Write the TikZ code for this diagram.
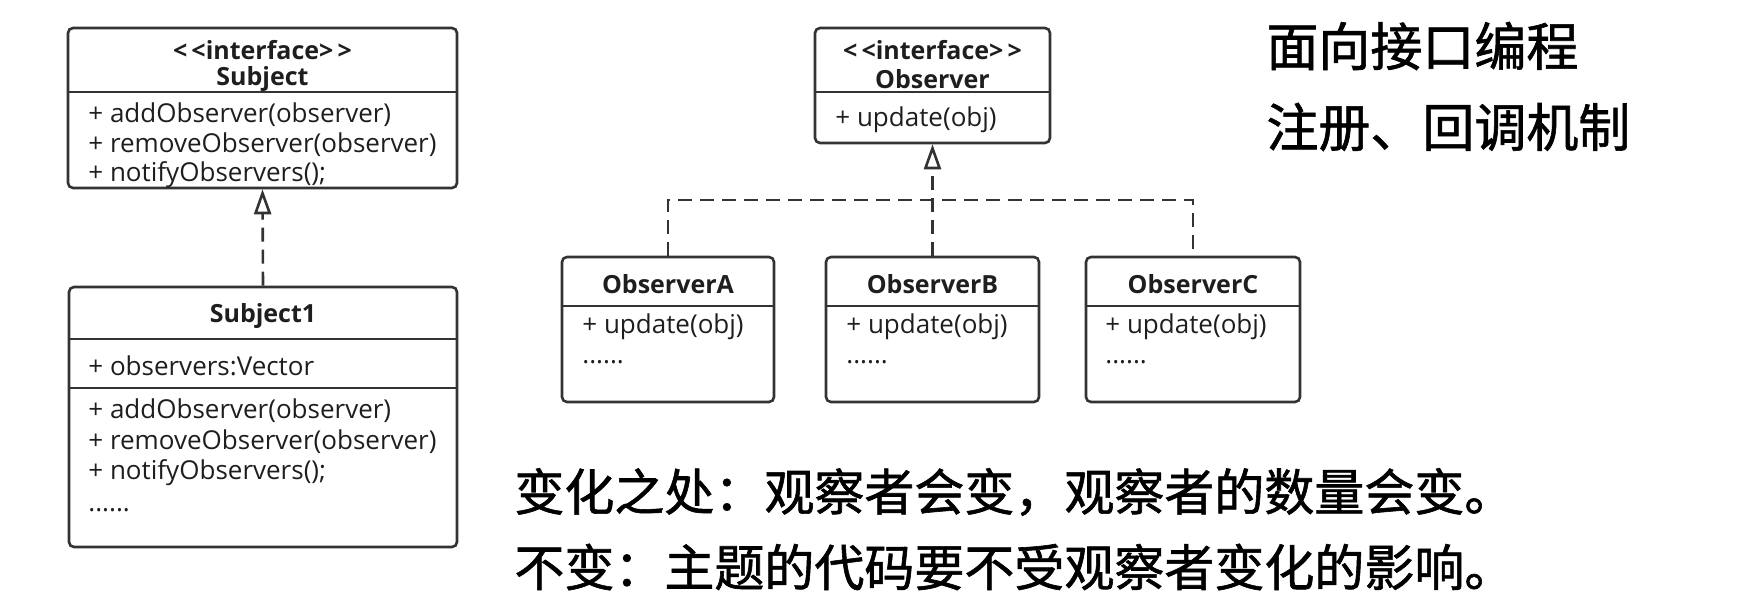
\documentclass[tikz,border=0pt]{standalone}
\usepackage{fontspec}
\setmainfont{Open Sans}
\newfontfamily\cjk[FakeBold=1.2]{Noto Sans CJK SC}
\usetikzlibrary{arrows.meta,positioning}
\definecolor{umlline}{RGB}{51,51,51}
\definecolor{umltext}{RGB}{30,30,30}
\newcommand{\boxlw}{1.3pt}

\begin{document}
\begin{tikzpicture}[x=0.5pt,y=-0.5pt,
    classbox/.style={draw=umlline, line width=\boxlw, rounded corners=2.5pt, inner sep=0pt},
    splitline/.style={draw=umlline, line width=\boxlw},
    member/.style={anchor=west, inner sep=0pt, text=umltext, font=\fontsize{13}{15}\selectfont},
    title/.style={inner sep=0pt, text=umltext, font=\bfseries\fontsize{12.5}{14}\selectfont},
    realize/.style={draw=umlline, line width=\boxlw, dash pattern=on 7pt off 4pt},
    realtip/.style={-{Triangle[open, length=12.5pt, width=8.5pt]}},
    note/.style={anchor=west, inner sep=0pt, font=\cjk\fontsize{25}{30}\selectfont}]
    \useasboundingbox (0,0) rectangle (1747,610);

    % interface Subject
    \node[classbox, minimum width=194.5pt, minimum height=80pt] (subject) at (262.5,108) {};
    \draw[splitline] (subject.west |- 0,92) -- (subject.east |- 0,92);
    \node[title] (subjectst) at (262.5,50) {<\,<interface>\,>};
    \node[title] (subjectnm) at (262.5,79) {Subject};
    \node[member] (subjectm1) at (88,115) {+ addObserver(observer)};
    \node[member] (subjectm2) at (88,145) {+ removeObserver(observer)};
    \node[member] (subjectm3) at (88,175) {+ notifyObservers();};

    % Subject1
    \node[classbox, minimum width=194pt, minimum height=130pt] (subjecta) at (263,417) {};
    \draw[splitline] (subjecta.west |- 0,339) -- (subjecta.east |- 0,339);
    \draw[splitline] (subjecta.west |- 0,388) -- (subjecta.east |- 0,388);
    \node[title] (subjectanm) at (263,316) {Subject1};
    \node[member] (subjectaf1) at (88,366) {+ observers:Vector};
    \node[member] (subjectam1) at (88,411) {+ addObserver(observer)};
    \node[member] (subjectam2) at (88,442) {+ removeObserver(observer)};
    \node[member] (subjectam3) at (88,473) {+ notifyObservers();};
    \node[member] (subjectam4) at (88,510) {......};

    % interface Observer
    \node[classbox, minimum width=117.5pt, minimum height=57.5pt] (observer) at (932.5,85.5) {};
    \draw[splitline] (observer.west |- 0,92) -- (observer.east |- 0,92);
    \node[title] (observerst) at (932.5,50) {<\,<interface>\,>};
    \node[title] (observernm) at (932.5,79) {Observer};
    \node[member] (observerm1) at (835,120) {+ update(obj)};

    % concrete observers
    \node[classbox, minimum width=106pt, minimum height=72.5pt] (obsa) at (668,329.5) {};
    \draw[splitline] (obsa.west |- 0,306) -- (obsa.east |- 0,306);
    \node[title] (obsanm) at (668,284) {ObserverA};
    \node[member] (obsam1) at (582,327) {+ update(obj)};
    \node[member] (obsam2) at (582,362) {......};

    \node[classbox, minimum width=106.5pt, minimum height=72.5pt] (obsb) at (932.5,329.5) {};
    \draw[splitline] (obsb.west |- 0,306) -- (obsb.east |- 0,306);
    \node[title] (obsbnm) at (932.5,284) {ObserverB};
    \node[member] (obsbm1) at (846,327) {+ update(obj)};
    \node[member] (obsbm2) at (846,362) {......};

    \node[classbox, minimum width=107pt, minimum height=72.5pt] (obsc) at (1193,329.5) {};
    \draw[splitline] (obsc.west |- 0,306) -- (obsc.east |- 0,306);
    \node[title] (obscnm) at (1193,284) {ObserverC};
    \node[member] (obscm1) at (1105,327) {+ update(obj)};
    \node[member] (obscm2) at (1105,362) {......};

    % realizations
    \coordinate (bus) at (932.5,200);
    \draw[realize, realtip] (subjecta.north) -- (subject.south);
    \draw[realize, realtip] (obsb.north) -- (observer.south);
    \draw[realize] (obsa.north) |- (bus) -| (obsc.north);

    % notes
    \node[note, font=\cjk\fontsize{26}{30}\selectfont] (slogana) at (1266,46) {面向接口编程};
    \node[note, font=\cjk\fontsize{26}{30}\selectfont] (sloganb) at (1266,127) {注册、回调机制};
    \node[note] (change) at (514,492) {变化之处：观察者会变，观察者的数量会变。};
    \node[note] (stable) at (514,567) {不变：主题的代码要不受观察者变化的影响。};
\end{tikzpicture}
\end{document}
